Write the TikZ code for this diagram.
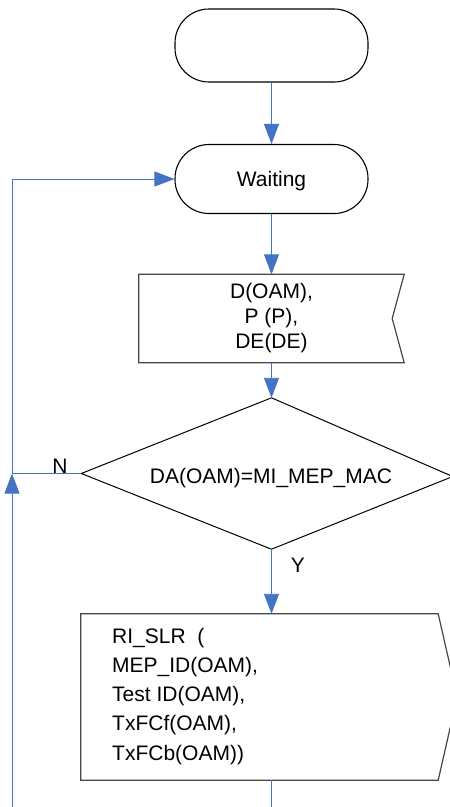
\documentclass[tikz,border=0pt]{standalone}
\usepackage{fontspec}
\setmainfont{Liberation Sans}
\usetikzlibrary{arrows.meta}
\definecolor{flowblue}{RGB}{68,114,196}
\definecolor{boxgray}{RGB}{70,70,70}
\begin{document}
\begin{tikzpicture}[x=1pt,y=-1pt,
  txt/.style={font=\fontsize{21}{25}\selectfont},
  term/.style={txt, draw=black, line width=1.1pt, rounded corners=34pt, fill=white,
    minimum width=193pt, inner sep=0pt},
  anchorbox/.style={draw=none, inner sep=0pt},
  outline/.style={draw=boxgray, line width=1.2pt, fill=white},
  flowline/.style={draw=flowblue, line width=0.9pt},
  flow/.style={flowline, -{Triangle[length=20pt,width=15pt]}},
  lbl/.style={txt, inner sep=0pt}
]
\useasboundingbox (0,0) rectangle (450,807);

% terminals
\node[term, minimum height=73pt] (t0) at (271.5,45.5) {};
\node[term, minimum height=69pt] (wait) at (271.5,179) {};
\node[txt, inner sep=0pt, anchor=base] (waitt) at (271.5,186) {Waiting};

% input box
\node[anchorbox, minimum width=265pt, minimum height=88pt] (b1) at (271.5,318.5) {};
\draw[outline] (b1.north west) -- (b1.north east) -- ([xshift=-12pt]b1.east)
  -- (b1.south east) -- (b1.south west) -- cycle;
\node[txt, align=center, inner sep=0pt] (b1t) at (b1.center) {D(OAM),\\P (P),\\DE(DE)};

% decision
\node[anchorbox, minimum width=380pt, minimum height=151pt] (dec) at (271.5,473.5) {};
\draw[draw=black, line width=1pt, fill=white] (dec.north) -- ([xshift=-9pt, yshift=-3pt]dec.east) -- (dec.south) -- (dec.west) -- cycle;
\node[txt, inner sep=0pt, anchor=base] (dect) at (271,483) {DA(OAM)=MI\_MEP\_MAC};

% output box
\node[anchorbox, minimum width=357pt, minimum height=166pt] (b2) at (259.5,697) {};
\draw[outline] (b2.north west) -- (b2.north east) -- ([xshift=19pt]b2.east)
  -- (b2.south east) -- (b2.south west) -- cycle;
\node[font=\fontsize{21}{29.25}\selectfont, align=left, inner sep=0pt, anchor=north west] (b2t) at (112,627.7)
  {RI\_SLR~~(\\MEP\_ID(OAM),\\Test ID(OAM),\\TxFCf(OAM),\\TxFCb(OAM))};

% labels
\node[lbl] (nl) at (60,466) {N};
\node[lbl] (yl) at (298,565) {Y};

% coordinates
\coordinate (jn) at (12,473.5);
\coordinate (cl) at (12,812);
\coordinate (cb) at (271.5,812);

% connectors
\draw[flow] (t0.south) -- (wait.north);
\draw[flow] (wait.south) -- (b1.north);
\draw[flow] (b1.south) -- (dec.north);
\draw[flow] (dec.south) -- (dec.south |- b2.north);
\draw[flowline] (dec.south |- b2.south) -- (cb);
\draw[flowline] (dec.west) -- (jn);
\draw[flow] (jn) |- (wait.west);
\draw[flow] (cl) -- (jn);
\end{tikzpicture}
\end{document}
